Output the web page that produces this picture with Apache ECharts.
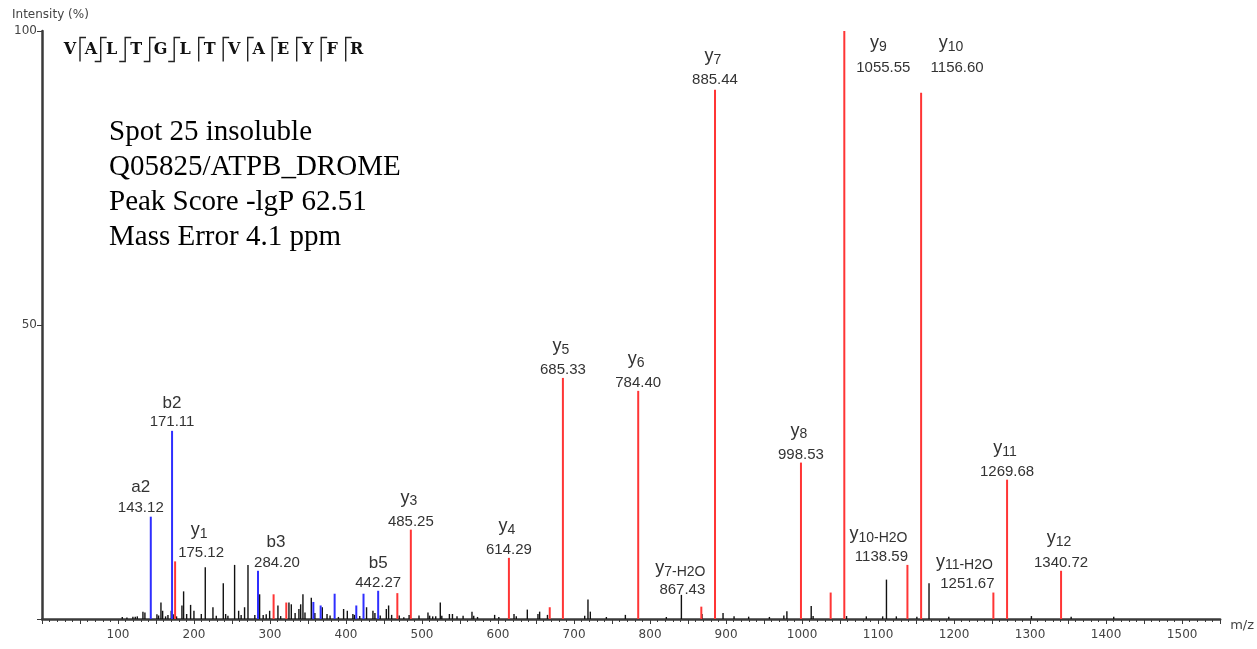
<!DOCTYPE html>
<html>
<head>
<meta charset="utf-8">
<title>VALTGLTVAEYFR MS/MS</title>
<script src="https://cdn.jsdelivr.net/npm/echarts@6/dist/echarts.min.js"></script>
<style>
  html, body { margin: 0; padding: 0; background: #ffffff; }
  #chart { width: 1257px; height: 649px; }
</style>
</head>
<body>
<div id="chart"></div>
<script>
// ---- spectrum data (m/z, relative intensity %) ----
const blackMz = [
  105.6, 111.7, 119.6, 122.7, 125.4, 132.8, 135.4, 151.2, 153.4, 156.5,
  158.7, 162.6, 165.7, 170.0, 172.6, 177.0, 184.1, 186.3, 190.3, 195.5,
  199.9, 209.6, 214.8, 224.9, 229.3, 238.5, 241.6, 244.6, 253.4, 258.7,
  262.0, 266.5, 271.0, 280.0, 286.3, 291.0, 295.0, 299.5, 310.4, 314.0,
  324.9, 328.0, 333.0, 338.0, 340.3, 343.3, 346.0, 354.3, 359.0, 368.8,
  375.0, 379.0, 390.0, 396.8, 401.7, 409.0, 411.0, 418.0, 427.0, 435.4,
  438.0, 445.0, 453.0, 456.0, 460.0, 470.0, 476.0, 483.0, 496.0, 507.8,
  510.0, 514.0, 518.0, 524.0, 526.0, 536.0, 540.0, 546.0, 554.0, 565.7,
  568.0, 573.0, 595.5, 601.0, 621.0, 624.0, 638.5, 652.5, 654.7, 665.0,
  714.0, 718.3, 721.4, 742.5, 767.5, 821.4, 841.2, 868.3, 896.0, 910.5,
  929.7, 957.0, 976.0, 980.0, 1012.0, 1014.5, 1058.5, 1084.5, 1106.0, 1111.0,
  1124.0, 1151.0, 1167.0, 1193.0, 1301.7, 1354.0, 1410.0
];
const blackInt = [
  0.35, 0.25, 0.4, 0.4, 0.45, 1.25, 1.1, 0.8, 0.6, 2.8,
  1.4, 0.45, 0.7, 1.4, 0.8, 0.45, 2.3, 4.7, 0.85, 2.4,
  1.4, 0.85, 8.8, 2.0, 0.55, 6.1, 0.85, 0.55, 9.2, 1.4,
  0.7, 2.0, 9.2, 0.7, 4.2, 0.7, 0.8, 1.4, 2.3, 0.5,
  2.8, 2.5, 1.0, 1.7, 2.5, 4.2, 1.1, 3.6, 1.0, 2.0,
  0.85, 0.6, 0.35, 1.7, 1.4, 0.85, 0.7, 0.5, 2.0, 1.4,
  1.0, 0.6, 1.7, 2.3, 0.7, 0.6, 0.3, 0.7, 0.6, 1.1,
  0.57, 0.45, 0.45, 2.8, 0.57, 0.85, 0.85, 0.45, 0.57, 1.25,
  0.57, 0.35, 0.7, 0.35, 0.85, 0.45, 1.6, 0.85, 1.25, 0.7,
  0.57, 3.3, 1.25, 0.34, 0.7, 0.34, 4.1, 0.85, 1.0, 0.45,
  0.4, 0.35, 0.6, 1.3, 2.2, 0.5, 0.5, 0.45, 0.45, 6.7,
  0.45, 0.4, 6.1, 0.4, 0.5, 0.4, 0.4
];
// b / a ions (blue)
const blueMz  = [143.12, 171.11, 284.20, 357.0, 366.6, 385.0, 413.5, 423.0, 442.27];
const blueInt = [17.4, 32.0, 8.2, 2.9, 2.3, 4.3, 2.3, 4.3, 4.8];
// y ions (red)
const redMz  = [175.12, 304.7, 321.4, 467.5, 485.25, 614.29, 668.0, 685.33, 784.40, 867.43,
                885.44, 998.53, 1037.6, 1055.55, 1138.59, 1156.60, 1251.67, 1269.68, 1340.72];
const redInt = [9.8, 4.2, 2.8, 4.4, 15.2, 10.4, 2.0, 41.0, 38.8, 2.1,
                90.0, 26.6, 4.5, 100.0, 9.2, 89.5, 4.5, 23.7, 8.2];

// annotated fragment ions
const ionNames = ['a2', 'b2', 'y1', 'b3', 'b5', 'y3', 'y4', 'y5', 'y6', 'y7-H2O',
                  'y7', 'y8', 'y9', 'y10-H2O', 'y10', 'y11-H2O', 'y11', 'y12'];
const ionMz = [143.12, 171.11, 175.12, 284.20, 442.27, 485.25, 614.29, 685.33, 784.40, 867.43,
               885.44, 998.53, 1055.55, 1138.59, 1156.60, 1251.67, 1269.68, 1340.72];

// peptide sequence and observed cleavages
const peptide = ['V', 'A', 'L', 'T', 'G', 'L', 'T', 'V', 'A', 'E', 'Y', 'F', 'R'];
const bBreaks = [2, 3, 4, 5];
const yBreaks = [1, 2, 3, 4, 5, 6, 7, 8, 9, 10, 11, 12];

const infoLines = ['Spot 25 insoluble', 'Q05825/ATPB_DROME', 'Peak Score -lgP 62.51', 'Mass Error 4.1 ppm'];

const xTickStep = 50;
const xMax = 1550;

// ---- label placement (pixel offsets from the peak top) ----
// dx/ndx: horizontal shift of value / name, vy/ny: vertical centre of value / name
const labelLayout = {
  'a2':      { dx: -10, ndx: -10, vy: -9, ny: -29 },
  'b2':      { dx: 0,  ndx: 0,  vy: -9, ny: -28 },
  'y1':      { dx: 26, ndx: 24, vy: -9, ny: -30 },
  'b3':      { dx: 19, ndx: 18, vy: -8, ny: -28 },
  'b5':      { dx: 0,  ndx: 0,  vy: -7.5, ny: -27 },
  'y7-H2O':  { dx: -19, ndx: -21, vy: -17, ny: -38 },
  'y7':      { dx: 0,  ndx: -2, vy: -10, ny: -33 },
  'y9':      { dx: 39, ndx: 34, vy: 37, ny: 13 },
  'y10-H2O': { dx: -26, ndx: -29, vy: -8.5, ny: -30 },
  'y10':     { dx: 36, ndx: 30, vy: -25, ny: -49 },
  'y11-H2O': { dx: -26, ndx: -29, vy: -9, ny: -30 },
  'y12':     { dx: 0,  ndx: -2, vy: -7.5, ny: -32 }
};
const defaultLayout = { dx: 0, ndx: -2, vy: -8, ny: -31 };

const SANS = 'Liberation Sans, Arial, sans-serif';
const AXIS_FONT = 'DejaVu Sans, sans-serif';
const RED = '#ff3535';
const BLUE = '#2f2fff';
const BLACK = '#111111';

function peakIntensity(mz) {
  let i = redMz.indexOf(mz);
  if (i >= 0) return redInt[i];
  i = blueMz.indexOf(mz);
  if (i >= 0) return blueInt[i];
  return 0;
}

function stickSeries(name, mzs, ints, color, width) {
  return {
    name: name,
    type: 'custom',
    silent: true,
    data: mzs.map((m, i) => [m, ints[i]]),
    renderItem: function (params, api) {
      const base = api.coord([api.value(0), 0]);
      const top = api.coord([api.value(0), api.value(1)]);
      return {
        type: 'line',
        shape: { x1: base[0], y1: base[1], x2: top[0], y2: top[1] },
        style: { stroke: color, lineWidth: width }
      };
    }
  };
}

const nameRich = {
  n: { fontSize: 18, fontFamily: SANS, fill: '#333', lineHeight: 20, verticalAlign: 'top' },
  s: { fontSize: 14, fontFamily: SANS, fill: '#333', lineHeight: 14, padding: [10, 0, 0, 0], verticalAlign: 'bottom' },
  p: { fontSize: 17, fontFamily: SANS, fill: '#333', lineHeight: 20 }
};

function nameText(name) {
  if (name.charAt(0) === 'y') return '{n|y}{s|' + name.slice(1) + '}';
  return '{p|' + name + '}';
}

const labelSeries = {
  name: 'labels',
  type: 'custom',
  silent: true,
  clip: false,
  z: 5,
  data: ionMz.map((m, i) => [m, peakIntensity(m), i]),
  renderItem: function (params, api) {
    const idx = api.value(2);
    const ion = ionNames[idx];
    const L = Object.assign({}, defaultLayout, labelLayout[ion] || {});
    const p = api.coord([api.value(0), api.value(1)]);
    return {
      type: 'group',
      children: [
        {
          type: 'text',
          x: p[0] + L.dx,
          y: p[1] + L.vy,
          style: {
            text: ionMz[idx].toFixed(2),
            fill: '#333',
            fontSize: 15,
            fontFamily: SANS,
            align: 'center',
            verticalAlign: 'middle'
          }
        },
        {
          type: 'text',
          x: p[0] + L.ndx,
          y: p[1] + L.ny,
          style: {
            text: nameText(ion),
            rich: nameRich,
            fill: '#333',
            align: 'center',
            verticalAlign: 'middle'
          }
        }
      ]
    };
  }
};

// ---- peptide fragmentation ladder drawn as graphics ----
function sequenceGraphics() {
  const els = [];
  const sepX = k => (k === 1 ? 80 : 100.7 + 24.5 * (k - 2));
  const topY = 37.5, botY = 61.5, hook = 6;
  peptide.forEach((aa, k) => {
    const x = k === 0 ? 70 : sepX(k) + 11;
    els.push({
      type: 'text', x: x, y: 49.5,
      style: {
        text: aa, fill: '#111', fontSize: 16, fontWeight: 'bold',
        fontFamily: 'DejaVu Serif, serif',
        align: 'center', verticalAlign: 'middle'
      }
    });
  });
  for (let k = 1; k < peptide.length; k++) {
    const x = sepX(k);
    const pts = [];
    if (yBreaks.indexOf(peptide.length - k) >= 0) pts.push([x + hook, topY]);
    pts.push([x, topY]);
    pts.push([x, botY]);
    if (bBreaks.indexOf(k) >= 0) pts.push([x - hook, botY]);
    els.push({
      type: 'polyline',
      shape: { points: pts },
      style: { stroke: '#222', lineWidth: 1.4, fill: null }
    });
  }
  return els;
}

function infoGraphics() {
  return infoLines.map((t, i) => ({
    type: 'text', left: 109, top: 118 + i * 35,
    style: { text: t, fill: '#000', fontSize: 29, fontFamily: 'Liberation Serif, Times New Roman, serif' }
  }));
}

const chart = echarts.init(document.getElementById('chart'), null, { renderer: 'canvas' });

chart.setOption({
  animation: false,
  backgroundColor: '#ffffff',
  grid: { left: 42, right: 36, top: 31, bottom: 30, containLabel: false },
  xAxis: {
    type: 'value',
    min: 0,
    max: xMax,
    interval: xTickStep,
    name: 'm/z',
    nameLocation: 'end',
    nameGap: 10,
    nameTextStyle: { fontSize: 13, color: '#444', fontFamily: AXIS_FONT, verticalAlign: 'top', padding: [0, 0, 0, 0] },
    axisLine: { show: true, onZero: false, lineStyle: { color: '#3a3a3a', width: 2.5 } },
    axisTick: { show: true, length: 5, lineStyle: { color: '#3a3a3a', width: 1 } },
    minorTick: { show: true, splitNumber: 5, length: 3, lineStyle: { color: '#3a3a3a', width: 1 } },
    axisLabel: {
      fontSize: 12, color: '#444', fontFamily: AXIS_FONT, margin: 10,
      formatter: v => (v > 0 && v % 100 === 0 ? String(v) : '')
    },
    splitLine: { show: false },
    minorSplitLine: { show: false }
  },
  yAxis: {
    type: 'value',
    min: 0,
    max: 100,
    interval: 50,
    axisLine: { show: true, lineStyle: { color: '#3a3a3a', width: 2.5 } },
    axisTick: { show: true, length: 5, lineStyle: { color: '#3a3a3a', width: 1 } },
    axisLabel: {
      fontSize: 12, color: '#444', fontFamily: AXIS_FONT, margin: 5,
      formatter: v => (v === 0 ? '' : String(v))
    },
    splitLine: { show: false }
  },
  graphic: [
    {
      type: 'text', left: 12, top: 9,
      style: { text: 'Intensity (%)', fill: '#444', fontSize: 12, fontFamily: AXIS_FONT }
    }
  ].concat(sequenceGraphics(), infoGraphics()),
  series: [
    stickSeries('other', blackMz, blackInt, BLACK, 1.4),
    stickSeries('b ions', blueMz, blueInt, BLUE, 2),
    stickSeries('y ions', redMz, redInt, RED, 2),
    labelSeries
  ]
});
</script>
</body>
</html>
